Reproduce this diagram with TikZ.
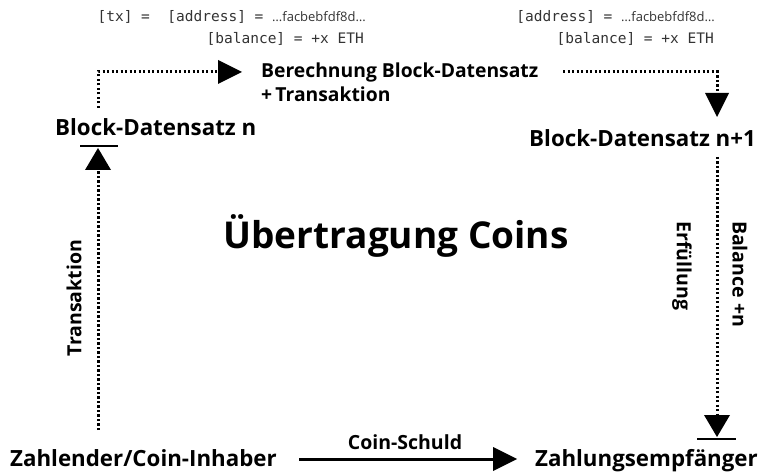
\documentclass[tikz,border=0pt]{standalone}
\usepackage{fontspec}
\setmainfont{Open Sans}
\setmonofont{DejaVu Sans Mono}
\newcommand\hashfont{\fontsize{13}{14}\selectfont\rmfamily}
\usetikzlibrary{arrows.meta}
\begin{document}
\begin{tikzpicture}[x=1pt,y=-1pt,
  lbl/.style={font=\fontsize{22.3}{24}\selectfont\bfseries, inner sep=0pt},
  sublbl/.style={font=\fontsize{19.3}{21}\selectfont\bfseries, inner sep=0pt},
  side/.style={font=\fontsize{19.5}{21}\selectfont\bfseries, inner sep=0pt},
  code/.style={font=\fontsize{14.5}{16}\selectfont\ttfamily, text=black!80, inner sep=0pt},
  dots/.style={line width=3pt, dash pattern=on 2.4pt off 2.1pt},
  head/.style={-{Triangle[length=24pt,width=24pt,line width=0pt]}},
  bar/.style={line width=2.8pt},
]
\useasboundingbox (0,0) rectangle (760,473);

% hash annotations
\node[code, anchor=base east] (codeA) at (366,22) {[tx] = \ [address] = {\hashfont …facbebfdf8d…}};
\node[code, anchor=base east] (codeB) at (364,44) {[balance] = +x ETH};
\node[code, anchor=base east] (codeC) at (715,22) {[address] = {\hashfont …facbebfdf8d…}};
\node[code, anchor=base east] (codeD) at (714,44) {[balance] = +x ETH};

% labels
\node[sublbl, anchor=base west] (calc) at (261,78) {Berechnung Block-Datensatz};
\node[sublbl, anchor=base west] (calc2) at (261,102) {+\,Transaktion};
\node[lbl, anchor=base west] (blockn) at (55,136) {Block-Datensatz n};
\node[lbl, anchor=base east] (blockn1) at (756,147) {Block-Datensatz n+1};
\node[lbl, anchor=base west] (payer) at (10,466) {Zahlender/Coin-Inhaber};
\node[lbl, anchor=base east] (payee) at (758,466) {Zahlungsempfänger};
\node[font=\fontsize{37}{40}\selectfont\bfseries, inner sep=0pt, anchor=base] (title) at (396,248) {Übertragung Coins};

% end and corner points of the connectors
\coordinate (txbot) at (98,430);
\coordinate (txbase) at (98,170);
\coordinate (txtip) at (98,148);
\coordinate (upstart) at (98,108);
\coordinate (upcorner) at (98,72);
\coordinate (calcin) at (242,72);
\coordinate (rstart) at (563,72);
\coordinate (rcorner) at (717,72);
\coordinate (rend) at (717,117);
\coordinate (fstart) at (717,157);
\coordinate (fbase) at (717,415);
\coordinate (ftip) at (717,437);
\coordinate (debtstart) at (299,459);
\coordinate (debtend) at (517,459);

% Transaktion: payer up to block n
\draw[dots] (txbot) -- (txbase);
\fill (85,170) -- (txtip) -- (111,170) -- cycle;
\draw[bar] (80,146) -- (118,146);
\node[side, rotate=90] (txlbl) at (74,298) {Transaktion};

% block n into the calculation
\draw[dots, head] (upstart) -- (upcorner) -- (calcin);

% calculation into block n+1
\draw[dots, head] (rstart) -- (rcorner) -- (rend);

% Erfuellung / Balance down to the payee
\draw[dots] (fstart) -- (fbase);
\fill (704,415) -- (ftip) -- (730,415) -- cycle;
\draw[bar] (697,439) -- (736,439);
\node[side, rotate=-90] (erf) at (682,266) {Erfüllung};
\node[side, rotate=-90] (bal) at (740,274) {Balance +n};

% Coin-Schuld
\draw[line width=3pt, head] (debtstart) -- (debtend);
\node[side, anchor=base] (debt) at (405,449) {Coin-Schuld};
\end{tikzpicture}
\end{document}
